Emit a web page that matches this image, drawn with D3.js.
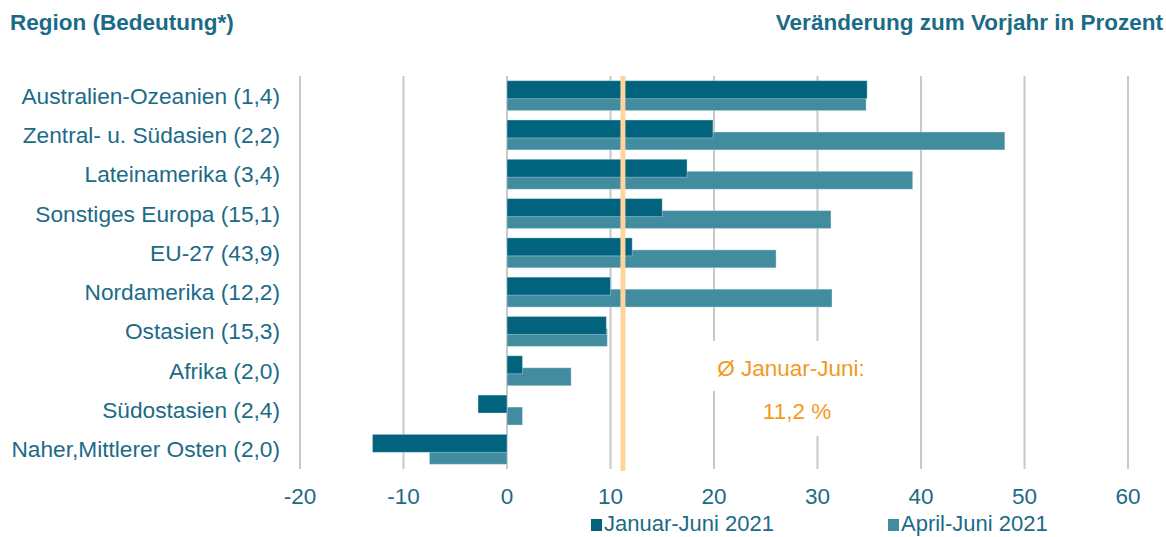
<!DOCTYPE html>
<html>
<head>
<meta charset="utf-8">
<script src="https://cdn.jsdelivr.net/npm/d3@7"></script>
<style>
  body { margin: 0; background: #fff; }
  svg { display: block; font-family: "Liberation Sans", Arial, sans-serif; }
</style>
</head>
<body>
<div id="chart"></div>
<script>
// Data
var regions = ["Australien-Ozeanien (1,4)", "Zentral- u. Südasien (2,2)", "Lateinamerika (3,4)",
  "Sonstiges Europa (15,1)", "EU-27 (43,9)", "Nordamerika (12,2)", "Ostasien (15,3)",
  "Afrika (2,0)", "Südostasien (2,4)", "Naher,Mittlerer Osten (2,0)"];
var janJun = [34.8, 19.9, 17.4, 15.0, 12.1, 10.0, 9.6, 1.5, -2.8, -13.0];
var aprJun = [34.7, 48.1, 39.2, 31.3, 26.0, 31.4, 9.7, 6.2, 1.5, -7.5];
var average = 11.2;
var ticks = [-20, -10, 0, 10, 20, 30, 40, 50, 60];
var seriesNames = ["Januar-Juni 2021", "April-Juni 2021"];

var width = 1166, height = 537;
var textColor = "#1b6b87";
var colJan = "#02637f", colApr = "#428ca0";

var svg = d3.select("#chart").append("svg")
  .attr("width", width)
  .attr("height", height);

var x = d3.scaleLinear().domain([-20, 60]).range([300, 1128]);
var y = d3.scaleBand().domain(regions).range([76, 469]).padding(0);

// Headers
svg.append("text")
  .attr("x", 10).attr("y", 30)
  .attr("font-size", "22.5px").attr("font-weight", "bold")
  .attr("fill", textColor)
  .text("Region (Bedeutung*)");

svg.append("text")
  .attr("x", 1163).attr("y", 30)
  .attr("text-anchor", "end")
  .attr("font-size", "22.5px").attr("font-weight", "bold")
  .attr("fill", textColor)
  .text("Veränderung zum Vorjahr in Prozent");

// Gridlines
svg.append("g").selectAll("line")
  .data(ticks)
  .enter().append("line")
  .attr("x1", function(d) { return x(d); })
  .attr("x2", function(d) { return x(d); })
  .attr("y1", 76).attr("y2", 469)
  .style("stroke", "#c8c8c8")
  .style("stroke-width", 2);

// Tick labels
svg.append("g").selectAll("text")
  .data(ticks)
  .enter().append("text")
  .attr("x", function(d) { return x(d); })
  .attr("y", 504)
  .attr("text-anchor", "middle")
  .attr("font-size", "22.5px")
  .attr("fill", textColor)
  .text(function(d) { return d; });

// Category labels
svg.append("g").selectAll("text")
  .data(regions)
  .enter().append("text")
  .attr("x", 280)
  .attr("y", function(d) { return y(d) + y.bandwidth() / 2 + 8; })
  .attr("text-anchor", "end")
  .attr("font-size", "22.7px")
  .attr("fill", textColor)
  .text(function(d) { return d; });

// Bars: April-Juni behind, Januar-Juni in front
svg.append("g").selectAll("rect")
  .data(regions)
  .enter().append("rect")
  .attr("x", function(d, i) { return x(Math.min(0, aprJun[i])); })
  .attr("width", function(d, i) { return Math.abs(x(aprJun[i]) - x(0)); })
  .attr("y", function(d) { return y(d) + y.bandwidth() / 2 - 3; })
  .attr("height", 18)
  .style("fill", colApr)
  .style("stroke", "#ffffff").style("stroke-opacity", 0.35).style("stroke-width", 1);

svg.append("g").selectAll("rect")
  .data(regions)
  .enter().append("rect")
  .attr("x", function(d, i) { return x(Math.min(0, janJun[i])); })
  .attr("width", function(d, i) { return Math.abs(x(janJun[i]) - x(0)); })
  .attr("y", function(d) { return y(d) + y.bandwidth() / 2 - 15; })
  .attr("height", 18)
  .style("fill", colJan)
  .style("stroke", "#ffffff").style("stroke-opacity", 0.35).style("stroke-width", 1);

// Average line
svg.append("line")
  .attr("x1", x(average)).attr("x2", x(average))
  .attr("y1", 76).attr("y2", 471)
  .style("stroke", "#ffd49f")
  .style("stroke-width", 5);

// Average label with white backgrounds
svg.append("rect").attr("x", 708).attr("y", 341).attr("width", 166).attr("height", 50).style("fill", "#fff");
svg.append("rect").attr("x", 752).attr("y", 391).attr("width", 84).attr("height", 45).style("fill", "#fff");

svg.append("text")
  .attr("x", 791).attr("y", 376)
  .attr("text-anchor", "middle")
  .attr("font-size", "22.5px")
  .attr("fill", "#f39a1e")
  .text("Ø Januar-Juni:");

svg.append("text")
  .attr("x", 797).attr("y", 419)
  .attr("text-anchor", "middle")
  .attr("font-size", "22.5px")
  .attr("fill", "#f39a1e")
  .text(average.toString().replace(".", ",") + " %");

// Legend
var legendX = [591, 888];
var legendColors = [colJan, colApr];
var legend = svg.append("g").selectAll("g")
  .data(seriesNames)
  .enter().append("g")
  .attr("transform", function(d, i) { return "translate(" + legendX[i] + ",0)"; });

legend.append("rect")
  .attr("x", 0).attr("y", 519)
  .attr("width", 11).attr("height", 12)
  .style("fill", function(d, i) { return legendColors[i]; });

legend.append("text")
  .attr("x", 13).attr("y", 531)
  .attr("font-size", "22px")
  .attr("fill", textColor)
  .text(function(d) { return d; });
</script>
</body>
</html>
